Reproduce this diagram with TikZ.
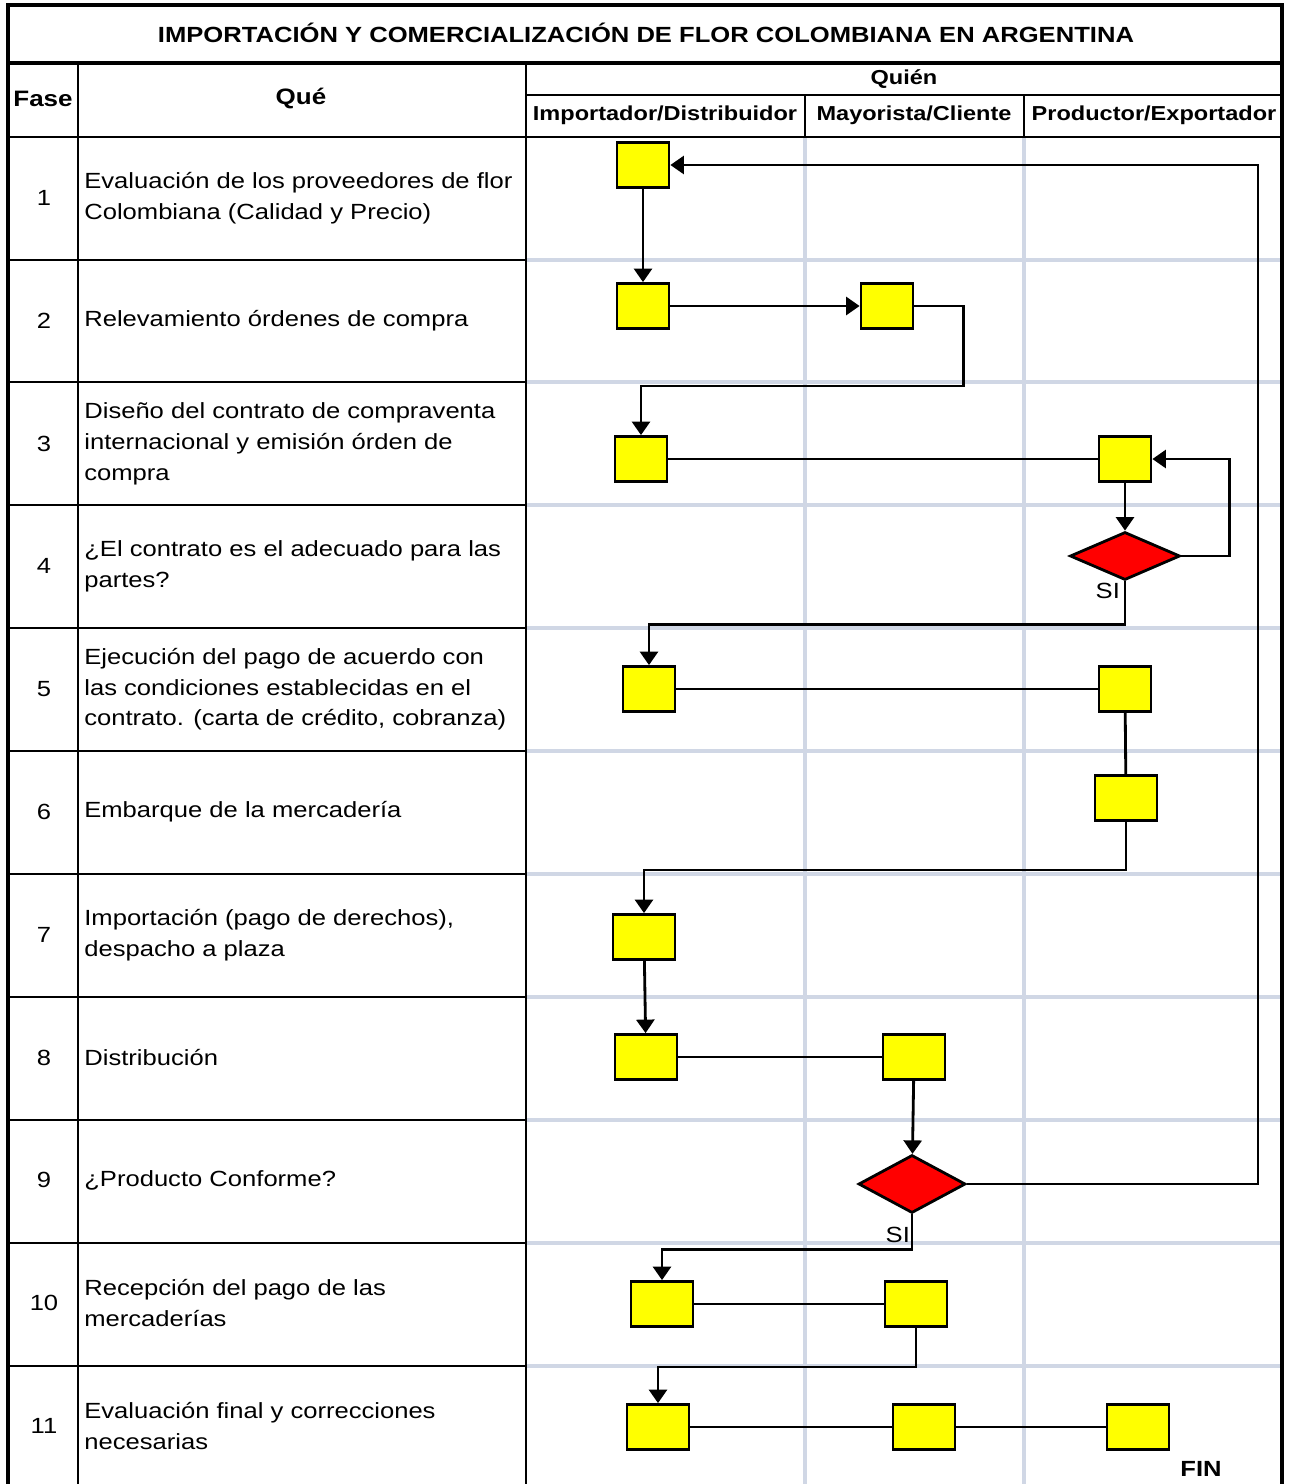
\documentclass[tikz,border=0pt]{standalone}
\usepackage{fontspec}
\setmainfont[FakeStretch=1.165]{Liberation Sans}
\usetikzlibrary{shapes.geometric,arrows.meta}
\definecolor{gridgray}{HTML}{D0D7E5}
\definecolor{boxyellow}{HTML}{FFFF00}
\definecolor{decred}{HTML}{FF0000}
\tikzset{
  act/.style={draw,fill=boxyellow,line width=1.6pt,minimum width=1.04cm,
    minimum height=0.9cm,inner sep=0pt},
  actw/.style={act,minimum width=1.24cm},
  dec/.style={diamond,draw,fill=decred,line width=1.6pt,minimum width=2.2cm,
    minimum height=0.96cm,inner sep=0pt},
  flow/.style={line width=1.6pt,-{Triangle[length=0.27cm,width=0.36cm]}},
  link/.style={line width=1.6pt},
  task/.style={anchor=west,align=left,inner sep=0pt,
    font=\fontsize{12.5}{17.6}\selectfont},
  head/.style={font=\bfseries\fontsize{11.5}{14}\selectfont},
  bighead/.style={font=\bfseries\fontsize{12.7}{15}\selectfont},
  yes/.style={font=\fontsize{12.5}{15}\selectfont,inner sep=1pt},
}
\begin{document}
\begin{tikzpicture}[x=0.02cm,y=-0.02cm]
    \useasboundingbox (0,0) rectangle (1290,1484);
    %% Swimlane grid
    \foreach \y in {260,382,505,628,751,874,997,1120,1243,1366}
        \draw[gridgray,line width=1.8pt] (526,\y) -- (1282,\y);
    \foreach \x in {805,1024}
        \draw[gridgray,line width=1.8pt] (\x,137) -- (\x,1484);
    %% Table
    \foreach \y in {260,382,505,628,751,874,997,1120,1243,1366}
        \draw[line width=1.4pt] (8,\y) -- (526,\y);
    \draw[line width=1.4pt] (8,137) -- (1282,137);
    \draw[line width=1.4pt] (526,95) -- (1282,95);
    \draw[line width=1.4pt] (78,63) -- (78,1484);
    \draw[line width=1.4pt] (526,63) -- (526,1484);
    \draw[line width=1.4pt] (805,95) -- (805,137);
    \draw[line width=1.4pt] (1024,95) -- (1024,137);
    \draw[line width=2.4pt] (8,63) -- (1282,63);
    \draw[line width=1.8pt] (8,1484) -- (8,5) -- (1282,5) -- (1282,1484);
    %% Headers
    \node[head,font=\bfseries\fontsize{12.5}{15}\selectfont] (title) at (646,33)
        {IMPORTACIÓN Y COMERCIALIZACIÓN DE FLOR COLOMBIANA EN ARGENTINA};
    \node[bighead] (fase) at (43,99) {Fase};
    \node[bighead] (que) at (301,99) {Qué};
    \node[head] (quien) at (904,79) {Quién};
    \node[head] (imp) at (665,115) {Importador/Distribuidor};
    \node[head] (may) at (914,115) {Mayorista/Cliente};
    \node[head] (prod) at (1154,115) {Productor/Exportador};
    %% Rows
    \foreach \n/\txt in {
        1/{Evaluación de los proveedores de flor\\Colombiana (Calidad y Precio)},
        2/{Relevamiento órdenes de compra},
        3/{Diseño del contrato de compraventa\\internacional y emisión órden de\\compra},
        4/{¿El contrato es el adecuado para las\\partes?},
        5/{Ejecución del pago de acuerdo con\\las condiciones establecidas en el\\contrato. (carta de crédito, cobranza)},
        6/{Embarque de la mercadería},
        7/{Importación (pago de derechos),\\despacho a plaza},
        8/{Distribución},
        9/{¿Producto Conforme?},
        10/{Recepción del pago de las\\mercaderías},
        11/{Evaluación final y correcciones\\necesarias}}
    {
        \pgfmathsetmacro{\yy}{198+122.8*(\n-1)}
        \node[font=\fontsize{12.5}{15}\selectfont] (fase\n) at (44,\yy) {\n};
        \node[task] (que\n) at (84,\yy) {\txt};
    }
    %% Activities
    \node[act]  (b1)  at (643,165) {};
    \node[act]  (b2)  at (643,306) {};
    \node[act]  (b2m) at (887,306) {};
    \node[act]  (b3)  at (641,459) {};
    \node[act]  (b3p) at (1125,459) {};
    \node[dec]  (d4)  at (1125,556) {};
    \node[act]  (b5)  at (649,689) {};
    \node[act]  (b5p) at (1125,689) {};
    \node[actw] (b6)  at (1126,798) {};
    \node[actw] (b7)  at (644,937) {};
    \node[actw] (b8)  at (646,1057) {};
    \node[actw] (b8m) at (914,1057) {};
    \node[dec,minimum width=2.14cm,minimum height=1.16cm] (d9) at (912,1184) {};
    \node[actw] (b10) at (662,1304) {};
    \node[actw] (b10m) at (916,1304) {};
    \node[actw] (b11) at (658,1427) {};
    \node[actw] (b11m) at (924,1427) {};
    \node[actw] (b11p) at (1138,1427) {};
    \node[bighead,font=\bfseries\fontsize{12.5}{15}\selectfont] (fin) at (1201,1469) {FIN};
    %% Flow
    \draw[flow] (b1) -- (b2);
    \draw[flow] (b2) -- (b2m);
    \draw[flow] (b2m.east) -- ++(49,0) -- ++(0,80) -| (b3.north);
    \draw[link] (b3) -- (b3p);
    \draw[flow] (b3p) -- (d4);
    \draw[flow] (d4.east) -- ++(48,0) |- (b3p.east);
    \draw[flow] (d4.south) -- ++(0,43) -| (b5.north);
    \node[yes,anchor=north east,xshift=-0.06cm] (si4) at (d4.south) {SI};
    \draw[link] (b5) -- (b5p);
    \draw[link] (b5p) -- (b6);
    \draw[flow] (b6.south) -- ++(0,48) -| (b7.north);
    \draw[flow] (b7) -- (b8);
    \draw[link] (b8) -- (b8m);
    \draw[flow] (b8m) -- (d9);
    \draw[flow] (d9.east) -- ++(291,0) |- (b1.east);
    \draw[flow] (d9.south) -- ++(0,35) coordinate (t9) -| (b10.north);
    \node[yes,anchor=south east,yshift=0.1cm] (si9) at (t9) {SI};
    \draw[link] (b10) -- (b10m);
    \draw[flow] (b10m.south) -- ++(0,39) -| (b11.north);
    \draw[link] (b11) -- (b11m);
    \draw[link] (b11m) -- (b11p);
\end{tikzpicture}
\end{document}
